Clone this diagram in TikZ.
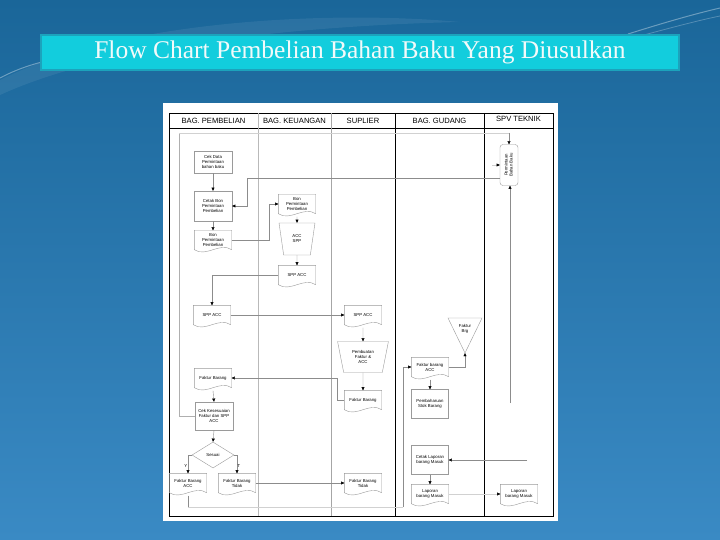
\documentclass[tikz,border=0pt]{standalone}
\usepackage{fontspec}
\setmainfont{Liberation Serif}
\newfontfamily\arialf{Liberation Sans}
\usetikzlibrary{arrows.meta,calc,shapes.geometric}
\definecolor{bgtop}{HTML}{1A6699}
\definecolor{bgbot}{HTML}{3A8AC4}
\definecolor{tfill}{HTML}{12CDDD}
\definecolor{tline}{HTML}{1CA3BC}
\definecolor{ttext}{HTML}{F2FAFA}
\definecolor{shpc}{HTML}{9A9A9A}
\definecolor{connc}{HTML}{8C8C8C}
\tikzset{
  shp/.style={draw=shpc, line width=0.4pt},
  nodetxt/.style={font=\arialf\fontsize{4.3}{5}\selectfont, align=center, inner sep=0.5pt},
  docbox/.style={nodetxt, minimum width=37pt, minimum height=19pt},
  procbox/.style={nodetxt, shp, minimum width=38pt},
  conn/.style={draw=connc, line width=0.4pt},
  faint/.style={draw=connc!40, line width=0.4pt},
  arr/.style={conn, -{Triangle[length=3.2pt,width=3pt,color=black]}},
  lanehead/.style={font=\arialf\fontsize{7.6}{8}\selectfont, inner sep=0pt},
  brlabel/.style={font=\arialf\fontsize{4.3}{5}\selectfont, inner sep=0.5pt}
}
\newcommand\docu[4]{%
  \node[docbox] (#1) at (#2,#3) {#4};
  \draw[shp] (#1.south east) -- (#1.north east) -- (#1.north west) -- (#1.south west)
    .. controls ($(#1.south west)+(12,8)$) and ($(#1.south east)+(-12,-8)$) .. (#1.south east);
}
\begin{document}
\begin{tikzpicture}[x=1pt,y=-1pt]
\useasboundingbox (0,0) rectangle (720,540);
% slide background
\shade[top color=bgtop, bottom color=bgbot] (0,0) rectangle (720,540);
\fill[white, opacity=0.07] (0,80) .. controls (120,20) and (330,10) .. (460,22) .. controls (330,25) and (120,40) .. (0,95) -- cycle;
\draw[white, opacity=0.35, line width=1pt] (0,78) .. controls (15,70) and (30,65) .. (42,62);
\draw[white, opacity=0.35, line width=1pt] (628,34) .. controls (660,24) and (690,15) .. (720,8);
\draw[white, opacity=0.25, line width=0.8pt] (640,36) .. controls (670,28) and (700,20) .. (720,16);
% title
\node[draw=tline, line width=2.5pt, fill=tfill, minimum width=638pt, minimum height=35pt,
      text=ttext, font=\fontsize{25.5}{28}\selectfont] (title) at (360,52.5)
      {Flow Chart Pembelian Bahan Baku Yang Diusulkan};
% white panel
\fill[white] (163,103) rectangle (558,521);
% swimlane frame
\draw[black, line width=0.8pt] (169,113) rectangle (553,516);
\draw[black, line width=0.8pt] (169,128) -- (553,128);
\draw[gray!55, line width=0.5pt] (258,113) -- (258,516);
\draw[gray!70, line width=0.5pt] (331,113) -- (331,516);
\draw[black, line width=0.8pt] (395,113) -- (395,516);
\draw[black, line width=0.8pt] (484,113) -- (484,516);
\node[lanehead] (h1) at (213.5,120.5) {BAG. PEMBELIAN};
\node[lanehead] (h2) at (294.5,120.5) {BAG. KEUANGAN};
\node[lanehead] (h3) at (363,120.5) {SUPLIER};
\node[lanehead] (h4) at (439.5,120.5) {BAG. GUDANG};
\node[lanehead] (h5) at (518.5,119) {SPV TEKNIK};
% --- BAG. PEMBELIAN
\node[procbox, minimum height=22pt] (cekdata) at (213,162) {Cek Data\\Permintaan\\bahan baku};
\node[procbox, minimum height=30pt] (cetak) at (213,206) {Cetak Bon\\Permintaan\\Pembelian};
\docu{bon1}{213}{240}{Bon\\Permintaan\\Pembelian}
\docu{spp1}{212}{315}{SPP ACC}
\docu{fb1}{213}{378}{Faktur Barang}
\node[procbox, minimum height=28pt] (cekses) at (214,416) {Cek Kesesuaian\\Faktur dan SPP\\ACC};
\node[diamond, shp, nodetxt, minimum width=42pt, minimum height=26pt, inner sep=0pt] (sesuai) at (213,455) {Sesuai};
\docu{fbacc}{188}{483}{Faktur Barang\\ACC}
\docu{fbtidak}{237}{483}{Faktur Barang\\Tidak}
% --- BAG. KEUANGAN
\docu{bon2}{297}{204}{Bon\\Permintaan\\Pembelian}
\node[trapezium, trapezium stretches=true, shape border rotate=180, trapezium angle=79,
      shp, nodetxt, minimum width=36pt, minimum height=32pt] (acc) at (297,239) {ACC\\SPP};
\docu{spp2}{297}{275}{SPP ACC}
% --- SUPLIER
\docu{spp3}{363}{315}{SPP ACC}
\node[trapezium, trapezium stretches=true, shape border rotate=180, trapezium angle=75.5,
      shp, nodetxt, minimum width=51pt, minimum height=31pt] (buat) at (363,357) {Pembuatan\\Faktur \&\\ACC};
\docu{fb3}{363}{400}{Faktur Barang}
\docu{fbt3}{363}{483}{Faktur Barang\\Tidak}
% --- BAG. GUDANG
\node[nodetxt] (fbrg) at (465,329) {Faktur\\Brg};
\draw[shp] (448,318) -- (482,318) -- (465,353) -- cycle;
\coordinate (fbrgtip) at (465,353);
\docu{fbacc4}{430}{367}{Faktur barang\\ACC}
\node[procbox, minimum width=37pt, minimum height=29pt] (pemb) at (430,404) {Pembaharuan\\Stok Barang};
\node[procbox, minimum width=37pt, minimum height=29pt] (cetaklap) at (430,460) {Cetak Laporan\\barang Masuk};
\docu{lap4}{430}{494}{Laporan\\barang Masuk}
% --- SPV TEKNIK
\node[shp, rounded corners=3pt, minimum width=18pt, minimum height=41pt, inner sep=0pt,
      font=\arialf\fontsize{4.3}{5}\selectfont] (perm) at (509,165)
      {\rotatebox{90}{\begin{tabular}{@{}c@{}}Permintaan\\Bahan Baku\end{tabular}}};
\docu{lap5}{519}{494}{Laporan\\barang Masuk}
% --- connectors
\draw[arr] (cekdata) -- (cetak);
\draw[arr] (cetak) -- (bon1);
\draw[arr] (bon1.east) -- (269,240) |- (bon2.west);
\draw[arr] ([yshift=-3pt]bon2.south) -- (acc.north);
\draw[arr] (acc.south) -- (spp2.north);
\draw[arr] (spp2.west) -| (spp1.north);
\draw[arr] (spp1.east) -- (spp3.west);
\draw[arr] ([yshift=-3pt]spp3.south) -- (buat.north);
\draw[arr] (buat.south) -- (fb3.north);
\draw[arr] (fb3.west) -- (337,400) |- (fb1.east);
\draw[arr] ([yshift=-3pt]fb1.south) -- (cekses.north);
\draw[arr] (cekses.south) -- (sesuai.north);
\draw[arr] (sesuai.west) -| node[brlabel, pos=0.8, left] {Y} (fbacc.north);
\draw[arr] (sesuai.east) -| node[brlabel, pos=0.8, right] {T} (fbtidak.north);
\draw[arr] (fbtidak.east) -- (fbt3.west);
% Faktur Barang ACC -> Faktur barang ACC (Gudang)
\coordinate (accb1) at (188,507);
\coordinate (accb2) at (403,507);
\draw[conn] ([yshift=-3pt]fbacc.south) -- (accb1);
\draw[faint] (accb1) -- (accb2);
\draw[arr] (accb2) |- (fbacc4.west);
\draw[arr] (fbacc4.east) -| (fbrgtip);
\draw[arr] ([yshift=-3pt]fbacc4.south) -- (pemb.north);
\coordinate (frlap) at (527,460);
\draw[arr] (frlap) -- (cetaklap.east);
\draw[arr] (cetaklap.south) -- (lap4.north);
\draw[arr, draw=connc!40] (lap4.east) -- (lap5.west);
\coordinate (frperm) at (510,403);
\draw[arr] (frperm) -- (perm.south -| frperm);
\draw[arr] ([yshift=-13pt]perm.west) -| (247,206) -- (cetak.east);
% Cek Kesesuaian -> Permintaan (faint route along the lane edge)
\coordinate (kr1) at (179,133);
\coordinate (kr2) at (509,133);
\draw[conn, draw=connc!70] (cekses.west) -| (kr1);
\draw[faint] (kr1) -- (kr2);
\draw[arr] (kr2) -- (perm.north);
\coordinate (permleft) at (492,165);
\draw[arr, draw=connc!40] (permleft) -- (perm.west);
\end{tikzpicture}
\end{document}
